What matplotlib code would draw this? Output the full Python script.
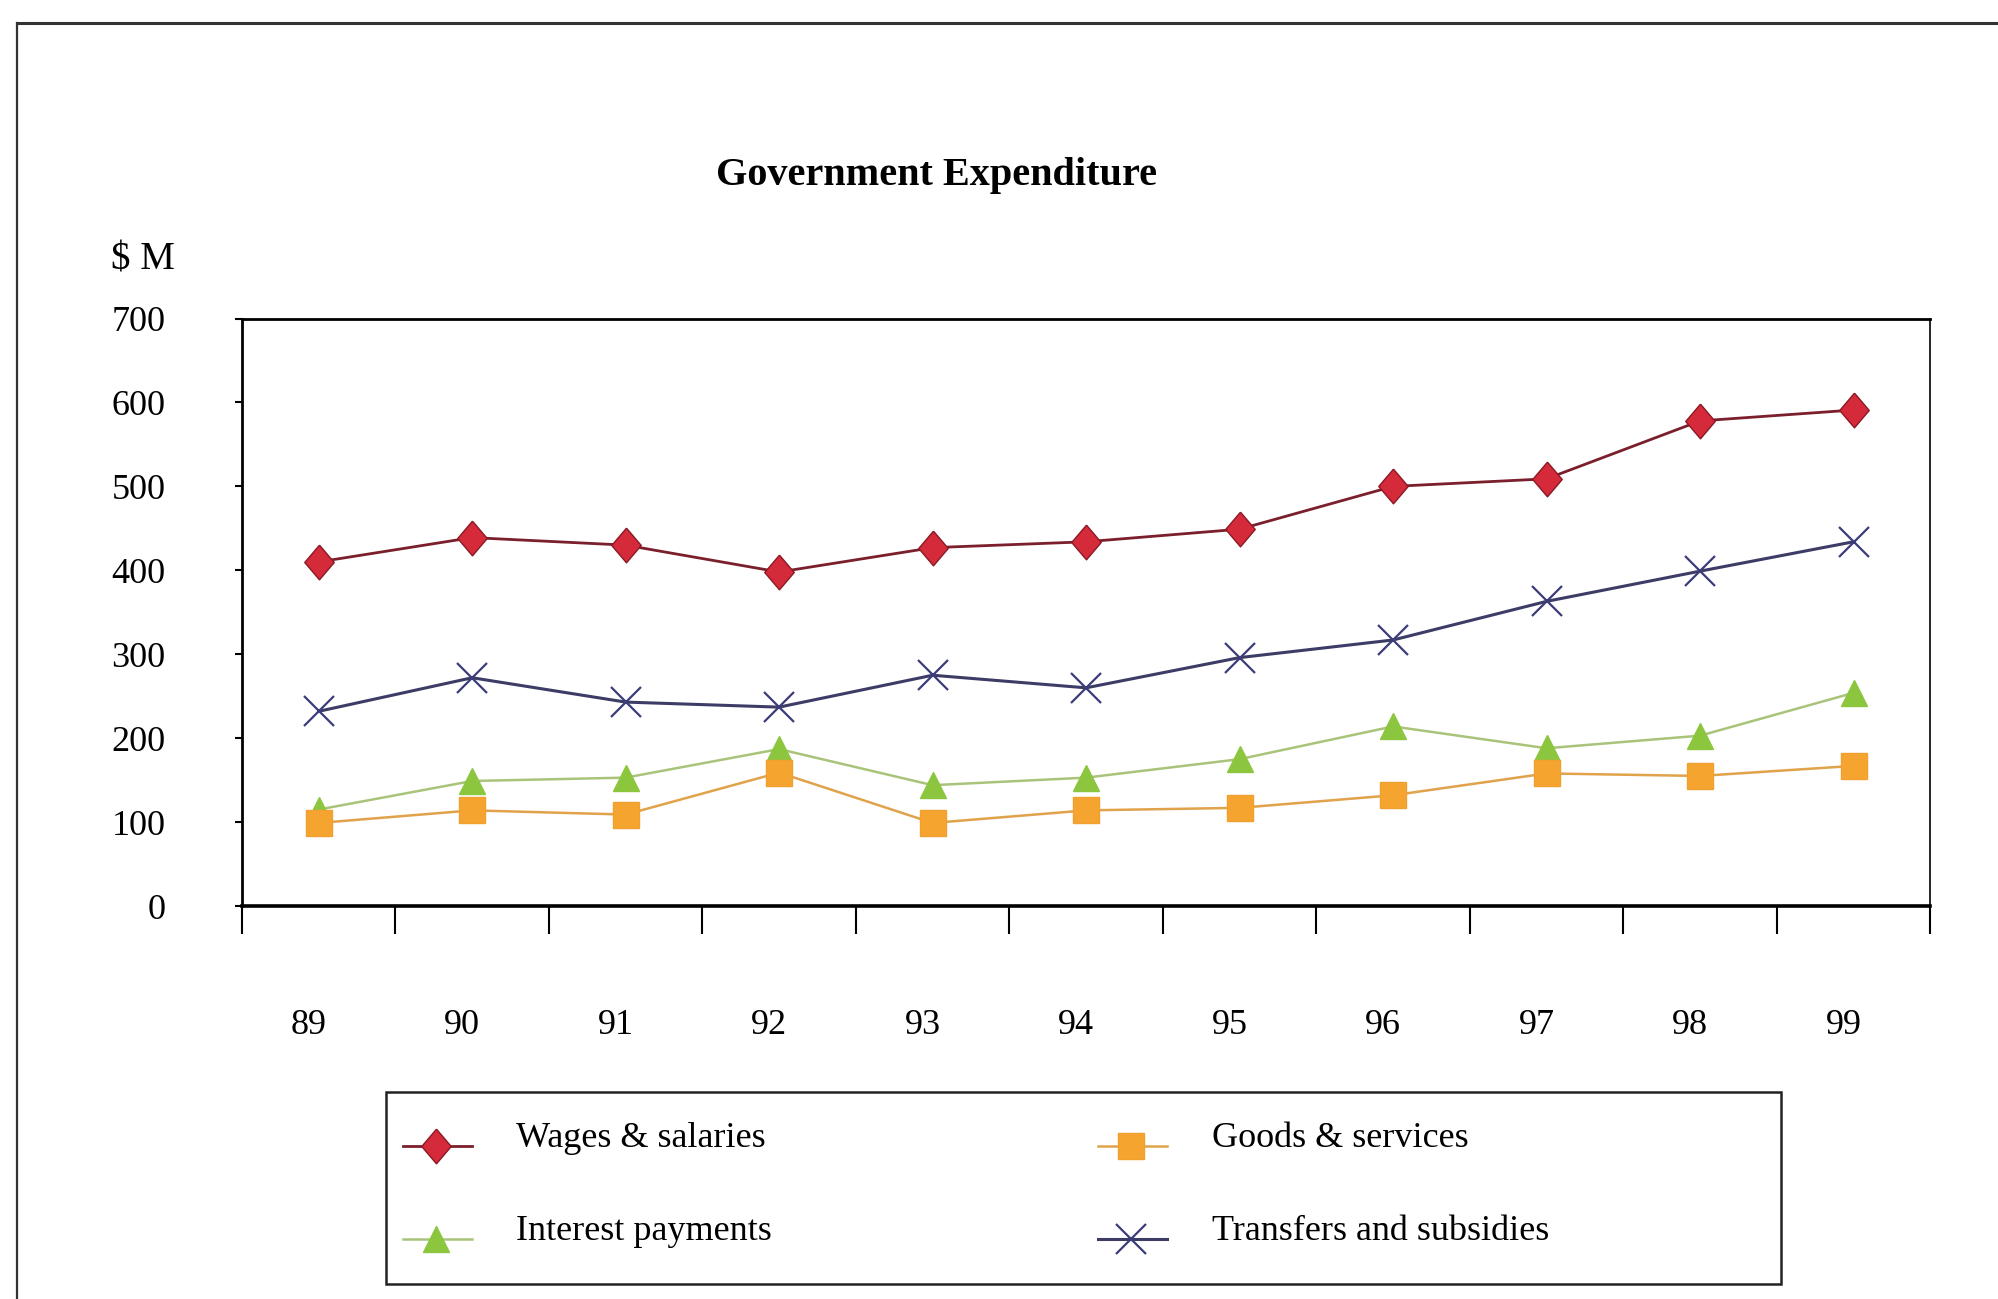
import numpy as np
import matplotlib
matplotlib.use("Agg")
import matplotlib.pyplot as plt
from matplotlib.lines import Line2D
from matplotlib.patches import Rectangle
from matplotlib.transforms import ScaledTranslation

plt.rcParams['font.family'] = ['Liberation Serif', 'DejaVu Serif']

years = ["89", "90", "91", "92", "93", "94", "95", "96", "97", "98", "99"]
wages = [410, 439, 430, 398, 427, 434, 449, 500, 509, 578, 591]
goods = [99, 114, 109, 159, 99, 114, 117, 132, 158, 155, 167]
interest = [115, 149, 153, 187, 144, 153, 175, 214, 188, 203, 254]
transfers = [232, 272, 243, 237, 275, 260, 296, 317, 363, 399, 434]

diamond = [(0, 1), (0.85, 0), (0, -1), (-0.85, 0), (0, 1)]

styles = {
    "Wages & salaries": dict(color="#7a1f2b", lw=2.0, marker=diamond, ms=25,
                             mfc="#d42a3a", mec="#8a1a25", mew=1.0),
    "Goods & services": dict(color="#e0a24a", lw=1.8, marker="s", ms=19,
                             mfc="#f5a52f", mec="#f0a030", mew=1.0),
    "Interest payments": dict(color="#a9c47a", lw=1.8, marker="^", ms=19,
                              mfc="#8cc63f", mec="#8cc63f", mew=1.0),
    "Transfers and subsidies": dict(color="#3c3c66", lw=2.2, marker="x", ms=22,
                                    mec="#3c3c7a", mew=1.6),
}

fig = plt.figure(figsize=(19.98, 12.99), dpi=100)
ax = fig.add_axes([0.1211, 0.3025, 0.845, 0.4523])

x = np.arange(len(years))
ax.plot(x, wages, zorder=4, **styles["Wages & salaries"])
ax.plot(x, transfers, zorder=3, **styles["Transfers and subsidies"])
ax.plot(x, interest, zorder=3, **styles["Interest payments"])
ax.plot(x, goods, zorder=3, **styles["Goods & services"])

ax.set_xlim(-0.5, len(years) - 0.5)
ax.set_ylim(0, 700)
ax.set_yticks(range(0, 701, 100))
ax.set_xticks(x)
ax.set_xticklabels(years)
ax.set_xticks(np.arange(-0.5, len(years), 1), minor=True)
ax.tick_params(axis="x", which="major", length=0, pad=74, labelsize=26)
ax.tick_params(axis="x", which="minor", length=20, width=1.5, direction="out")
ax.tick_params(axis="y", length=5, width=1.5, pad=50, labelsize=26)
shift = ScaledTranslation(-10 / 100, 0, fig.dpi_scale_trans)
for lab in ax.get_xticklabels():
    lab.set_transform(lab.get_transform() + shift)
for s in ["top", "left"]:
    ax.spines[s].set_linewidth(2.0)
ax.spines["bottom"].set_linewidth(2.6)
ax.spines["right"].set_linewidth(1.2)

fig.text(0.4685, 0.865, "Government Expenditure", ha="center", va="center",
         fontsize=29, fontweight="bold")
fig.text(0.0555, 0.800, "$ M", ha="left", va="center", fontsize=28)

# outer frame (top and left edges)
fig.add_artist(Line2D([0.0085, 1.0], [0.982, 0.982], color="#333333", lw=2.2))
fig.add_artist(Line2D([0.0085, 0.0085], [0.0, 0.982], color="#333333", lw=1.6))

# legend box drawn by hand to match the layout
fig.add_artist(Rectangle((0.1932, 0.0118), 0.6984, 0.1472, transform=fig.transFigure,
                         fill=False, ec="#222222", lw=1.8))
leg_items = [("Wages & salaries", 0.2015, 0.1178), ("Goods & services", 0.5497, 0.1178),
             ("Interest payments", 0.2015, 0.0461), ("Transfers and subsidies", 0.5497, 0.0461)]
for name, lx, ly in leg_items:
    st = dict(styles[name])
    fig.add_artist(Line2D([lx, lx + 0.0345], [ly, ly], transform=fig.transFigure,
                          color=st["color"], lw=st["lw"]))
    fig.add_artist(Line2D([lx + 0.0166], [ly], transform=fig.transFigure, ls="none",
                          marker=st["marker"], ms=st["ms"], mfc=st.get("mfc", "none"),
                          mec=st["mec"], mew=st["mew"]))
    fig.text(lx + 0.0568, ly + 0.0055, name, ha="left", va="center", fontsize=26)

fig.savefig("out.png", dpi=100)
